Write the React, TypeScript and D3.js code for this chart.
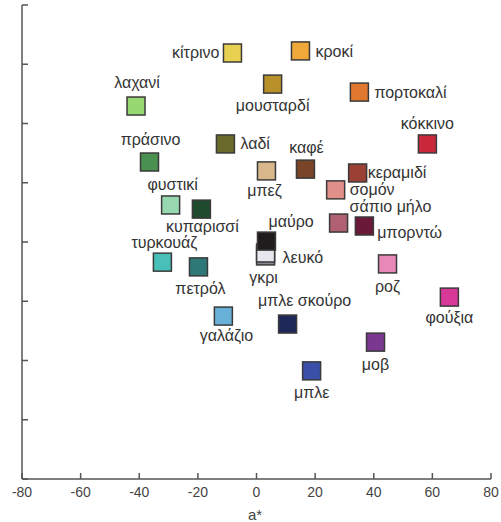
import React from "react";
import * as d3 from "d3";

const names = ["κίτρινο","κροκί","μουσταρδί","πορτοκαλί","λαχανί","κόκκινο","λαδί","πράσινο","καφέ","μπεζ","κεραμιδί","σομόν","φυστικί","κυπαρισσί","σάπιο μήλο","μπορντώ","γκρι","λευκό","μαύρο","τυρκουάζ","ροζ","πετρόλ","φούξια","γαλάζιο","μπλε σκούρο","μοβ","μπλε"];
const aStar = [-8.2,15.0,5.5,35.1,-41.1,58.3,-10.6,-36.5,16.7,3.4,34.5,27.0,-29.3,-18.8,28.0,36.8,3.1,3.1,3.4,-32.1,44.7,-19.8,65.8,-11.3,10.6,40.6,18.8];
const bStar = [63.8,64.5,53.3,50.6,45.9,33.1,33.1,27.0,24.6,24.0,23.3,17.6,12.5,11.1,6.4,5.4,-4.7,-3.7,0.3,-6.8,-7.4,-8.4,-18.6,-25.0,-27.7,-33.8,-43.5];
const colors = ["#e8d050","#f0a838","#b8902a","#e07830","#98d870","#c8283a","#6a6a2a","#4a9050","#7a4428","#d8b88a","#9a4034","#e09088","#98d8b0","#1e4a2e","#b06070","#6a1a38","#8a8894","#e8e6ee","#201c1e","#48c0b8","#e888b8","#2e7878","#d83898","#68b0d8","#1e2858","#7a3890","#3a50a8"];
const xTicks = [-80,-60,-40,-20,0,20,40,60,80];
const yTicks = [-80,-60,-40,-20,0,20,40,60,80];

// label layout: [anchor, dx, dy]
const labelLayout: [string, number, number][] = [
  ["end",-13,5],["start",15,6],["middle",0,27],["start",15,6],["middle",1,-18],["middle",0,-15],
  ["start",15,5],["middle",1,-17],["middle",1,-16],["middle",-2,25],["start",10,5],["start",14,5],
  ["middle",2,-15],["middle",1,23],["start",11,-11],["start",13,12],["middle",-2,27],["start",17,10],
  ["start",2,-14],["middle",2,-14],["middle",0,28],["middle",2,27],["middle",0,26],["middle",3,25],
  ["middle",17,-18],["middle",0,28],["middle",0,27]
];

export default function App() {
  const W = 501, H = 522;
  const x = d3.scaleLinear().domain([-80, 80]).range([22, 491]);
  const y = d3.scaleLinear().domain([-80, 80]).range([479, 5]);
  const s = 18;
  const axisColor = "#555";
  const font = "'Liberation Sans', Arial, sans-serif";
  return (
    <svg width={W} height={H} style={{ position: "absolute", left: 0, top: 0, background: "#fff" }}>
      <g>
        <line x1={x(-80)} x2={x(80)} y1={y(-80)} y2={y(-80)} stroke={axisColor} strokeWidth={1.5} />
        <line x1={x(-80)} x2={x(-80)} y1={y(-80)} y2={y(80)} stroke={axisColor} strokeWidth={1.5} />
        {xTicks.map((t) => (
          <g key={"xt" + t}>
            <line x1={x(t)} x2={x(t)} y1={y(-80)} y2={y(-80) - 6} stroke={axisColor} strokeWidth={1.5} />
            <text x={x(t)} y={497} textAnchor="middle" fontFamily={font} fontSize={14} fill="#444">{t}</text>
          </g>
        ))}
        {yTicks.map((t) => (
          <line key={"yt" + t} x1={x(-80)} x2={x(-80) + 6} y1={y(t)} y2={y(t)} stroke={axisColor} strokeWidth={1.5} />
        ))}
        <text x={248} y={520} textAnchor="start" fontFamily={font} fontSize={15} fill="#444">a*</text>
      </g>
      <g>
        {names.map((n, i) => (
          <rect key={"r" + i} x={x(aStar[i]) - s / 2} y={y(bStar[i]) - s / 2} width={s} height={s}
            fill={colors[i]} stroke="#3a3a3a" strokeWidth={1.5} />
        ))}
        {names.map((n, i) => {
          const [anchor, dx, dy] = labelLayout[i];
          return (
            <text key={"t" + i} x={x(aStar[i]) + dx} y={y(bStar[i]) + dy} textAnchor={anchor}
              fontFamily={font} fontSize={16} fill="#333">{n}</text>
          );
        })}
      </g>
    </svg>
  );
}
